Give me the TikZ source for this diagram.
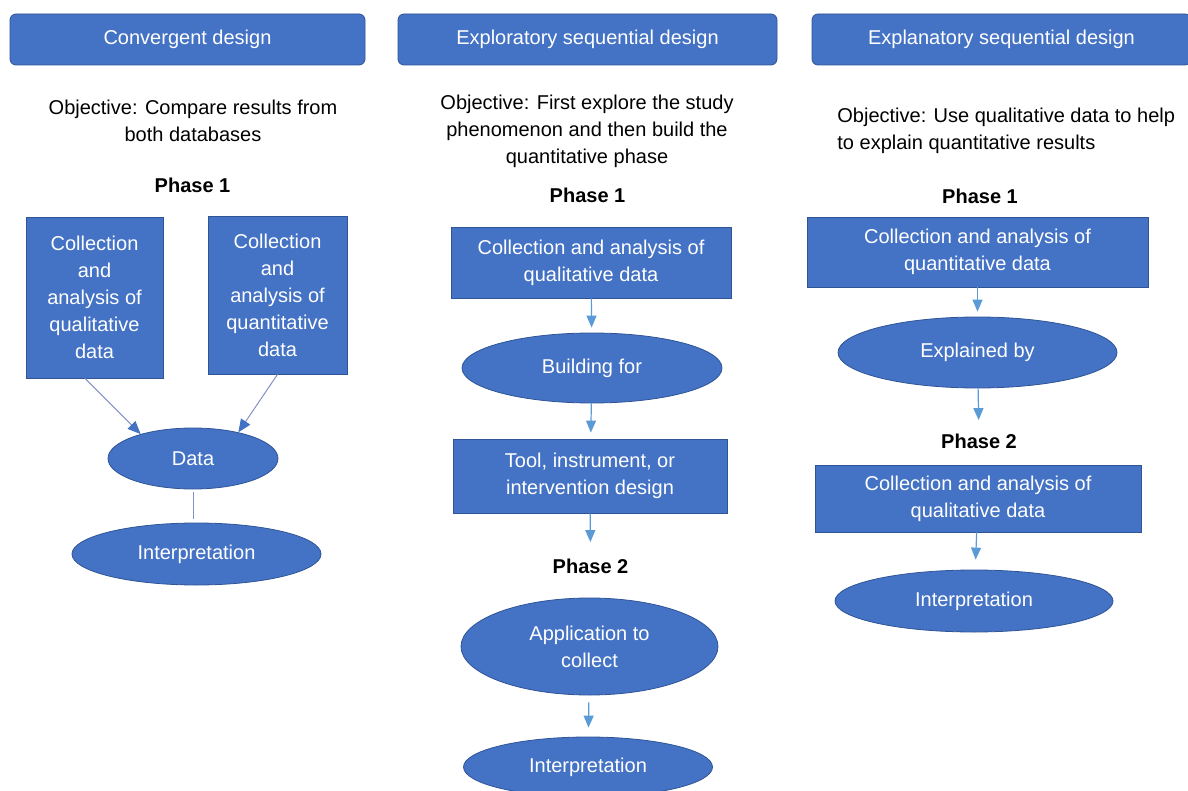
\documentclass[tikz,border=0pt]{standalone}
\usepackage{fontspec}
\setmainfont{Liberation Sans}
\usepackage{tikz}
\usetikzlibrary{shapes.geometric,arrows.meta}
\definecolor{boxblue}{HTML}{4472C4}
\definecolor{boxedge}{HTML}{2F5597}
\definecolor{linkblue}{HTML}{5B9BD5}
\definecolor{linkgrey}{HTML}{8391C4}
\tikzset{head/.style={draw=boxedge,fill=boxblue,rectangle,rounded corners=3pt,minimum
height=25.5pt,inner sep=0pt,text=white},stepbox/.style={draw=boxedge,fill=boxblue,rectangle,
inner sep=0pt,align=center,text=white},oval/.style={draw=boxedge,fill=boxblue,ellipse,
inner sep=0pt,align=center,text=white}}
\tikzstyle{flow}      = [line width=0.6pt, linkblue, -{Triangle[length=6pt,width=5pt]}, shorten >=2.5pt]
\tikzstyle{merge}     = [line width=0.5pt, linkgrey, -{Triangle[length=6.5pt,width=5.5pt,color=boxblue]}]

\begin{document}
\begin{tikzpicture}[x=0.5pt,y=-0.5pt,font=\fontsize{10}{13.5}\selectfont,
			objtext/.style={inner sep=0pt,align=center,text=black},
			phase/.style={inner sep=0pt,anchor=base,font=\fontsize{10}{13.5}\selectfont\bfseries}]

		\useasboundingbox (0,0) rectangle (1188,791);

		% convergent design
		\node[head, minimum width=177.5pt] (convhead) at (187.5,39.5) {Convergent design};
		\node[objtext, anchor=north] (convobj) at (193,100) {Objective: Compare results from\\both databases};
		\node[phase] (convp1) at (192.5,193) {Phase 1};
		\node[stepbox, minimum width=68.5pt, minimum height=80.5pt] (convqual) at (94.5,297.5) {Collection\\and\\analysis of\\qualitative\\data};
		\node[stepbox, minimum width=69.5pt, minimum height=79pt] (convquan) at (277.5,295) {Collection\\and\\analysis of\\quantitative\\data};
		\node[oval, minimum width=85pt, minimum height=30.5pt] (data) at (193,458.5) {Data};
		\node[oval, minimum width=124.5pt, minimum height=31pt] (convinterp) at (196.5,554) {Interpretation};

		\draw[merge] ([xshift=-4.75pt]convqual.south) -- (data.155);
		\draw[merge] (convquan.south) -- (data.30);
		\draw[line width=0.5pt, linkgrey, shorten <=1.5pt, shorten >=2pt] (data.south) -- (data.south |- convinterp.north);

		% exploratory sequential design
		\node[head, minimum width=189.5pt] (explohead) at (587.5,39.5) {Exploratory sequential design};
		\node[objtext, anchor=north] (exploobj) at (587,95) {Objective: First explore the study\\phenomenon and then build the\\quantitative phase};
		\node[phase] (explop1) at (587.5,203) {Phase 1};
		\node[stepbox, minimum width=140pt, minimum height=35.5pt] (exploqual) at (591,262.5) {Collection and analysis of\\qualitative data};
		\node[oval, minimum width=130pt, minimum height=35pt] (build) at (592,368) {Building for};
		\node[stepbox, minimum width=137pt, minimum height=37pt] (tool) at (590,476) {Tool, instrument, or\\intervention design};
		\node[phase] (explop2) at (590.5,573) {Phase 2};
		\node[oval, minimum width=128.5pt, minimum height=48.5pt] (apply) at (589.5,646.5) {Application to\\collect};
		\node[oval, minimum width=124.5pt, minimum height=30pt] (explointerp) at (588,767) {Interpretation};

		\draw[flow] (exploqual) -- (build);
		\draw[flow, shorten >=3pt] (build) -- (tool);
		\draw[flow, shorten >=8pt] (tool) -- (explop2);
		\draw[flow, shorten <=3.5pt, shorten >=4.5pt] (apply) -- (explointerp);

		% explanatory sequential design
		\node[head, minimum width=189.5pt] (explahead) at (1001.5,39.5) {Explanatory sequential design};
		\node[objtext, anchor=north west, align=left] (explaobj) at (837,108) {Objective: Use qualitative data to help\\to explain quantitative results};
		\node[phase] (explap1) at (980,204) {Phase 1};
		\node[stepbox, minimum width=170.5pt, minimum height=35pt] (explaquan) at (977.5,252) {Collection and analysis of\\quantitative data};
		\node[oval, minimum width=139.5pt, minimum height=35.5pt] (explained) at (977.5,352.5) {Explained by};
		\node[phase] (explap2) at (979,448) {Phase 2};
		\node[stepbox, minimum width=163pt, minimum height=33.5pt] (explaqual) at (978,498.5) {Collection and analysis of\\qualitative data};
		\node[oval, minimum width=139pt, minimum height=31pt] (explainterp) at (974,601) {Interpretation};

		\draw[flow] (explaquan) -- (explained);
		\draw[flow, shorten >=6.5pt] (explained) -- (explap2);
		\draw[flow, shorten >=5pt] (explaqual) -- (explainterp);
	\end{tikzpicture}
\end{document}
